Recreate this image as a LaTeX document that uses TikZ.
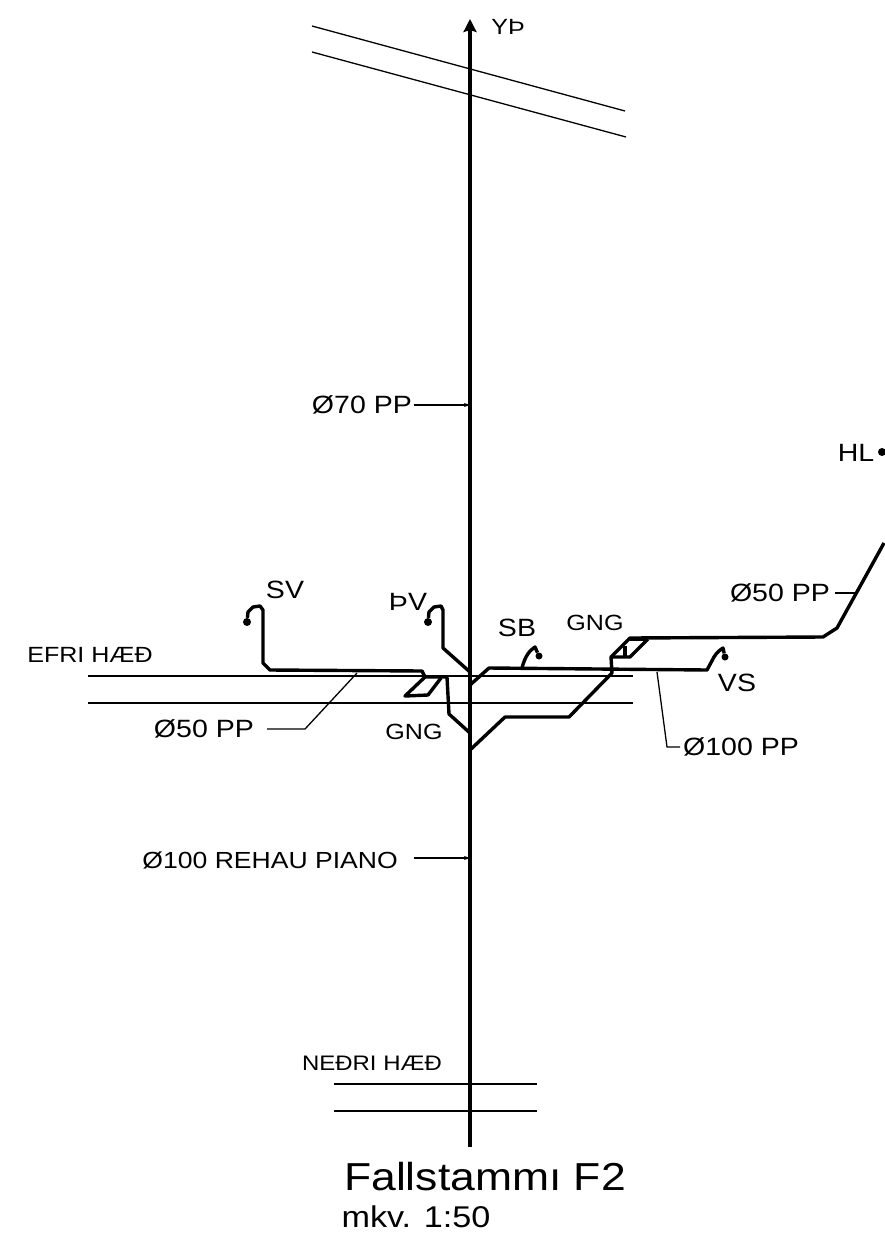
\documentclass[tikz,border=0pt]{standalone}
\usepackage{fontspec}
\setmainfont[FakeStretch=1.14]{Liberation Sans}
\usetikzlibrary{arrows.meta, positioning}

\tikzset{
  stem/.style={line width=4pt, black},
  pipe/.style={line width=3.4pt, black, line join=round},
  thin line/.style={line width=1.3pt, black},
  leader/.style={line width=1.3pt, black},
  label/.style={font=\fontsize{25}{25}\selectfont, inner sep=0pt},
  small label/.style={label, font=\fontsize{22}{22}\selectfont},
  trap/.style={circle, fill=black, inner sep=0pt, minimum size=8pt},
}

\begin{document}
\begin{tikzpicture}[x=1pt, y=-1pt, >=stealth]
  \useasboundingbox (0,0) rectangle (884,1237);

  % Stammur
  \coordinate (top) at (470,19);
  \coordinate (bottom) at (470,1147);
  \draw[stem, -{Stealth[length=13pt,width=13pt,inset=2pt]}] (bottom) -- (top);
  \node[small label] (yp) at (508,27) {YÞ};

  % Thak
  \draw[thin line] (312,26) -- (625,111);
  \draw[thin line] (312,52) -- (626,137);

  % Efri haed
  \node[small label] (efri) at (90,655) {EFRI HÆÐ};
  \draw[thin line] (88,676) -- (633,676);
  \draw[thin line] (88,703) -- (633,703);

  % Nedri haed
  \node[label, font=\fontsize{21}{21}\selectfont] (nedri) at (372,1063) {NEÐRI HÆÐ};
  \draw[thin line] (334,1084) -- (537,1084);
  \draw[thin line] (334,1111) -- (537,1111);

  % Tengistadir
  \node[trap] (sv) at (247,622) {};
  \node[trap] (pv) at (428,622) {};
  \node[trap, minimum size=7pt] (sb) at (539,656) {};
  \node[trap, minimum size=7pt] (vs) at (725,657) {};
  \node[trap] (hl) at (882,452) {};

  % Lagnir vinstra megin
  \draw[pipe] (sv) -- (248,612) -- (253,607) -- (260,606) -- (263,610)
    -- (263,663) -- (270,670) -- (422,671) -- (425,677) -- (447,677)
    -- (449,714) -- (470,733);
  \draw[pipe] (425,677) -- (405,696) -- (428,695) -- (441,678);
  \draw[pipe] (pv) -- (429,612) -- (434,607) -- (441,606) -- (443,610)
    -- (443,648) -- (470,672);

  % Lagnir haegra megin
  \draw[pipe] (470,685) -- (489,668) -- (707,670) -- (714,657)
    .. controls (717,652) and (720,650) .. (723,648) -- (vs);
  \draw[pipe] (522,668) .. controls (525,656) and (530,650) .. (535,647) -- (sb);
  \draw[pipe] (470,750) -- (505,717) -- (569,717) -- (612,673) -- (611,657)
    -- (630,638) -- (823,637) -- (837,628) -- (884,543);
  \draw[pipe] (611,657) -- (630,657) -- (648,639);
  \draw[pipe] (625,646) -- (625,657);
  \draw[pipe] (630,639) -- (648,639);

  % Merkingar
  \node[label, anchor=east] (d70) at (412,405) {Ø70 PP};
  \coordinate (d70end) at (470,405);
  \draw[leader, shorten <=2pt, -{Stealth[length=6pt,width=4pt]}] (d70.east) -- (d70end);

  \node[label, anchor=east, font=\fontsize{23.3}{23.3}\selectfont] (d100r) at (398,860) {Ø100 REHAU PIANO};
  \coordinate (d100rend) at (470,858);
  \draw[leader, shorten <=16pt, -{Stealth[length=6pt,width=4pt]}] (d100r.east |- d100rend) -- (d100rend);

  \node[label, anchor=east] (d50l) at (254,729) {Ø50 PP};
  \coordinate (d50lend) at (357,673);
  \draw[leader, shorten <=13pt] (d50l.east) -- (305,729) -- (d50lend);

  \node[label, anchor=east] (d50r) at (830,593) {Ø50 PP};
  \coordinate (d50rend) at (855,593);
  \draw[leader, shorten <=5pt] (d50r.east) -- (d50rend);

  \node[label, anchor=west] (d100) at (683,747) {Ø100 PP};
  \coordinate (d100end) at (657,672);
  \draw[leader, shorten <=3pt] (d100.west) -- (667,747) -- (d100end);

  \node[label] (svl) at (285,590) {SV};
  \node[label] (pvl) at (408,602) {ÞV};
  \node[label] (sbl) at (517,628) {SB};
  \node[small label] (gngr) at (595,623) {GNG};
  \node[small label] (gngl) at (414,732) {GNG};
  \node[label] (vsl) at (737,683) {VS};
  \node[label] (hll) at (856,453) {HL};

  \node[label, font=\fontsize{39}{39}\selectfont] (title) at (485,1177) {Fallstammı F2};
  \node[label, font=\fontsize{30}{30}\selectfont] (scale) at (416,1217) {mkv. 1:50};
\end{tikzpicture}
\end{document}
